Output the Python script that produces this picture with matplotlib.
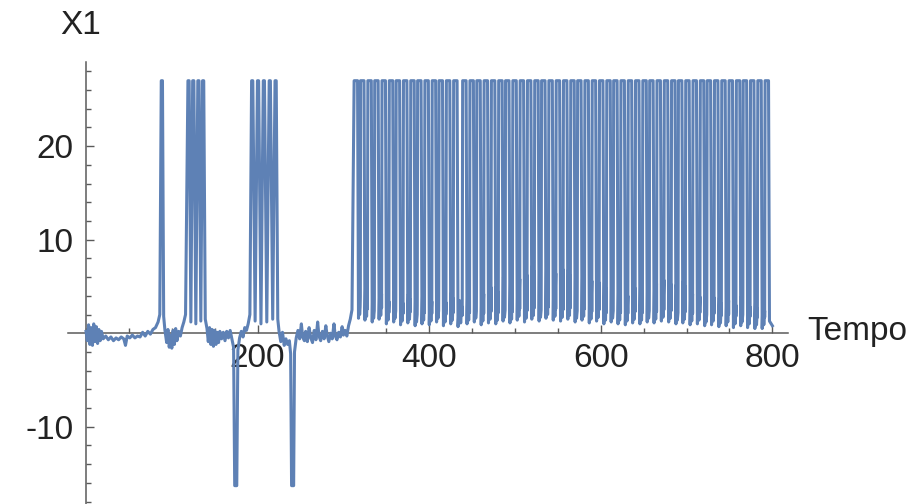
import matplotlib
matplotlib.use('Agg')
import matplotlib.pyplot as plt
from matplotlib.ticker import MultipleLocator

plt.rcParams['font.family'] = ['Liberation Sans', 'DejaVu Sans']
plt.rcParams['axes.unicode_minus'] = False

# spikes are cut off by the plot range at these levels
clip_hi = 27.0
clip_lo = -16.3

# isolated spikes / short bursts before the tonic firing starts
spike_t = [88.4, 119.5, 125.0, 131.0, 136.5, 193.7, 200.5, 207.3, 214.2, 221.0]
dip_t = [174.5, 240.8]

# resting trace between the early events
rest_t = [0, 1.5, 3, 4.5, 6, 7.5, 9, 10.5, 12, 13.5, 15, 16.5, 18, 20, 23, 26, 29, 32, 35,
          38, 41, 44, 46, 48, 51, 54, 57, 60, 63, 66, 69, 72, 75, 78, 81, 84, 86,
          90.5, 92, 94, 95.5, 97, 98.5, 100, 101.5, 103, 104.5, 106, 108, 110, 112, 114, 116,
          122.2, 128, 133.8, 139, 141, 142.5, 144, 145.5, 147, 148.5, 150, 151.5, 153, 154.5,
          156, 158, 160, 162, 164, 166, 168, 170, 172,
          177, 179, 181, 183, 185, 187, 189, 191,
          197.1, 203.9, 210.7, 217.6, 223.5, 225, 227, 229, 231, 233, 235, 237, 238.5,
          243, 245, 247, 249, 251, 252.5, 254.5, 256, 258, 260, 262, 264, 266, 268, 270,
          271.5, 273.5, 275.5, 277.5, 279.5, 281, 283, 285, 287, 289, 290.5, 292.5, 294.5,
          296.5, 298.5, 300, 302, 304, 306, 308, 310]
rest_x = [0.2, -0.8, 0.9, -1.2, 0.6, -1.3, 1.0, -0.9, 0.7, -1.1, 0.4, -0.8, 0.2, -0.6, -0.3,
          -0.7, -0.4, -0.8, -0.5, -0.7, -0.4, -0.6, -1.3, -0.3, -0.5, -0.2, -0.5, -0.3, -0.4,
          0.1, -0.3, 0.2, -0.1, 0.4, 0.6, 1.2, 2.0,
          1.8, 0.3, -1.0, 0.4, -1.5, -0.2, -1.6, 0.3, -1.2, 0.5, -0.8, 0.2, -0.3, 0.6, 1.2, 2.0,
          1.2, 1.0, 1.3, 1.5, 0.5, -0.9, 0.6, -1.2, 0.4, -1.4, 0.3, -1.2, 0.1, -1.0,
          0.2, -0.6, 0.1, -0.8, 0.2, -0.5, 0.3, -0.6, -1.5,
          -1.8, -0.5, 0.2, -0.4, 0.6, 0.3, 1.0, 2.0,
          1.3, 1.0, 1.2, 1.5, 1.5, 0.2, -0.9, 0.1, -1.3, -0.6, -1.2, -0.8, -2.2,
          -2.0, -0.5, 0.3, -0.6, 1.0, -0.4, -0.8, 0.2, -0.9, 0.6, -0.5, -1.0, 0.3, -0.7, 1.2,
          -0.3, -0.8, 0.2, -0.6, 0.8, -0.2, -0.9, 0.0, -0.6, 1.0, -0.3, -0.7, 0.1,
          -0.4, 0.7, -0.2, 0.3, -0.3, 0.8, 1.5, 2.5]

# tonic firing from t ~ 314 to the end of the run
burst_t = [314.5, 322, 330.5, 338.5, 347, 355.5, 363.5, 372, 380.5, 388.5,
           397, 405.5, 413.5, 422, 430.5, 441, 449.5, 457.5, 466, 474.5,
           483, 491, 499.5, 508, 516.5, 525, 533, 541.5, 550, 558.5,
           567, 575, 583.5, 592, 600.5, 609, 617, 625.5, 634, 642.5,
           651, 659, 667.5, 676, 684.5, 692.5, 701, 709.5, 718, 726,
           734.5, 743, 751.5, 760, 768, 776.5, 785, 793.5]
# minimum after each spike and the sub-threshold level before the next one
burst_low = [1.6, 1.4, 1.2, 1.5, 1.0, 1.2, 0.9, 1.1, 0.8, 1.0,
             0.9, 1.2, 0.8, 1.0, 0.7, 1.0, 1.2, 0.9, 1.1, 1.0,
             1.3, 1.1, 1.4, 1.2, 1.5, 1.3, 1.6, 1.4, 1.3, 1.5,
             1.2, 1.4, 1.1, 1.3, 1.0, 1.2, 1.0, 0.9, 1.1, 1.0,
             1.2, 1.1, 1.3, 1.2, 1.0, 1.1, 0.9, 1.0, 0.8, 0.9,
             0.7, 0.8, 0.6, 0.8, 0.6, 0.5, 0.5]
burst_mid = [4.5, 5.0, 4.2, 4.8, 4.0, 4.4, 3.8, 4.2, 3.6, 4.5,
             4.0, 4.6, 3.9, 4.3, 3.5, 4.6, 5.2, 4.8, 5.5, 5.0,
             6.0, 5.6, 6.4, 6.8, 7.2, 6.6, 7.5, 7.0, 7.4, 6.8,
             6.5, 6.9, 6.2, 6.0, 5.4, 5.8, 5.2, 4.6, 5.4, 5.0,
             5.6, 5.9, 6.3, 5.8, 5.2, 5.6, 4.8, 4.5, 4.0, 4.4,
             3.8, 4.1, 3.6, 3.9, 3.4, 3.2, 3.0]
t_end, x_end = 800.0, 0.8

early_w = 0.7   # half width of a clipped spike top
burst_w = 2.0
dip_w = 1.2

pts = list(zip(rest_t, rest_x))
for s in spike_t:
    pts += [(s - early_w, clip_hi), (s + early_w, clip_hi)]
for s in burst_t:
    pts += [(s - burst_w, clip_hi), (s + burst_w, clip_hi)]
for d in dip_t:
    pts += [(d - dip_w, clip_lo), (d + dip_w, clip_lo)]
# small oscillation between two spikes of the tonic phase
for s, n, lo, mid in zip(burst_t[:-1], burst_t[1:], burst_low, burst_mid):
    gap = n - s
    pts += [(s + 3.1, lo),
            (s + 0.45 * gap, mid),
            (s + 0.59 * gap, lo + 0.4),
            (s + 0.70 * gap, mid - 0.6),
            (n - 2.5, lo + 1.2)]
pts += [(burst_t[-1] + 3.1, x_end + 0.5), (t_end, x_end)]
pts.sort()
t = [p[0] for p in pts]
x = [p[1] for p in pts]

fig = plt.figure(figsize=(9.2, 5.04), dpi=100)
ax = fig.add_axes([68 / 920, 0, 720 / 920, 442 / 504])
ax.plot(t, x, color='#5e81b5', lw=2.2, zorder=3)

ax.set_xlim(-21, 818.2)
ax.set_ylim(-18.26, 29.0)

axis_col = '#5a5a5a'
for side in ['top', 'right']:
    ax.spines[side].set_visible(False)
ax.spines['left'].set_position(('data', 0))
ax.spines['bottom'].set_position(('data', 0))
for side in ['left', 'bottom']:
    ax.spines[side].set_color(axis_col)
    ax.spines[side].set_linewidth(1.1)

ax.set_xticks([200, 400, 600, 800])
ax.set_yticks([-10, 10, 20])
ax.xaxis.set_minor_locator(MultipleLocator(50))
ax.yaxis.set_minor_locator(MultipleLocator(2))
ax.tick_params(which='both', direction='in', color=axis_col, width=1.0,
               labelsize=24, labelcolor='#222222')
ax.tick_params(which='major', length=6)
ax.tick_params(which='minor', length=3.5)
ax.tick_params(axis='x', pad=7)
ax.tick_params(axis='y', pad=9)

fig.text(81 / 920, 1 - 25 / 504, 'X1', ha='center', va='center', fontsize=24, color='#222222')
fig.text(807 / 920, 1 - 340 / 504, 'Tempo', ha='left', va='baseline', fontsize=24, color='#222222')

fig.savefig('out.png', dpi=100)
